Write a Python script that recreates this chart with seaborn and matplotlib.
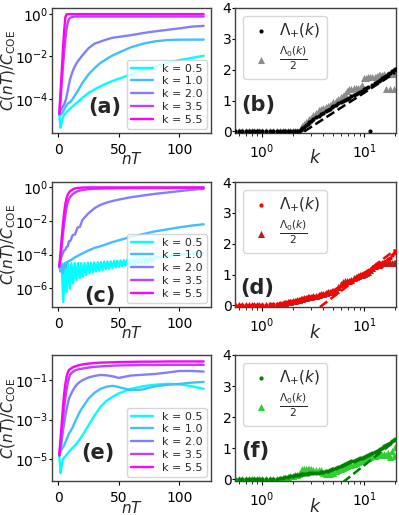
import matplotlib
matplotlib.use("Agg")
import matplotlib.pyplot as plt
import numpy as np
import seaborn as sns

# ---- left column: C(nT)/C_COE, stored as log10 values ----
NT = [1, 2, 3, 4, 5, 6, 7, 8, 9, 10, 12, 14, 16, 18, 20, 25, 30, 35, 40, 45,
      50, 60, 70, 80, 90, 100, 110, 120]
K_LABELS = ["k = 0.5", "k = 1.0", "k = 2.0", "k = 3.5", "k = 5.5"]
K_COLORS = ["#00ffff", "#40bfff", "#8080ff", "#bf40ff", "#ff00ff"]

# panel (a)
A_K05 = [-4.7, -5.35, -5.1, -4.85, -4.75, -4.68, -4.62, -4.56, -4.5, -4.45, -4.35, -4.25, -4.15, -4.05,
         -3.95, -3.72, -3.55, -3.4, -3.27, -3.15, -3.05, -2.85, -2.65, -2.48, -2.3, -2.17, -2.07, -1.97]
A_K10 = [-4.7, -4.75, -4.7, -4.6, -4.5, -4.4, -4.3, -4.22, -4.18, -4.15, -4.0, -3.82, -3.65, -3.45,
         -3.25, -2.85, -2.55, -2.3, -2.12, -1.95, -1.82, -1.57, -1.4, -1.29, -1.23, -1.21, -1.21, -1.21]
A_K20 = [-4.7, -4.55, -4.45, -4.35, -4.25, -4.1, -3.9, -3.6, -3.3, -3.05, -2.7, -2.45, -2.25, -2.1,
         -1.95, -1.62, -1.4, -1.3, -1.2, -1.12, -1.08, -1.0, -0.9, -0.82, -0.75, -0.68, -0.6, -0.56]
A_K35 = [-4.7, -4.1, -3.3, -2.5, -1.8, -1.2, -0.7, -0.4, -0.25, -0.18, -0.14, -0.12, -0.12, -0.12,
         -0.12, -0.12, -0.12, -0.12, -0.12, -0.12, -0.12, -0.12, -0.12, -0.12, -0.12, -0.12, -0.12, -0.12]
A_K55 = [-4.7, -3.7, -2.7, -1.7, -0.8, -0.15, -0.02, -0.01, -0.01, -0.01, -0.01, -0.01, -0.01, -0.01,
         -0.01, -0.01, -0.01, -0.01, -0.01, -0.01, -0.01, -0.01, -0.01, -0.01, -0.01, -0.01, -0.01, -0.01]

# panel (c); k = 0.5 oscillates strongly and has its own nT samples
C_NT05 = [1, 2.9, 4.3, 5.6, 7.0, 8.3, 9.7, 11.0, 12.4, 13.7, 15.1, 16.4, 17.8, 19.1, 20.5, 21.8, 23.2,
          24.5, 25.9, 27.2, 28.6, 29.9, 31.3, 32.6, 34.0, 35.3, 36.7, 38.0, 39.4, 40.7, 42.1, 43.4,
          44.8, 46.1, 47.5, 48.8, 50.2, 51.5, 52.9, 54.2, 55.6, 56.9, 58.3, 59.6, 61.0, 62.3, 63.7,
          65.0, 66.4, 67.7, 69.1, 70.4, 71.8, 73.1, 74.5, 75.8, 77.2, 80, 90, 100, 110, 120]
C_K05 = [-4.7, -4.5, -6.8, -4.5, -6.2, -4.5, -6.0, -4.5, -5.7, -4.5, -5.5, -4.5, -5.4, -4.5, -5.3,
         -4.5, -5.2, -4.48, -5.1, -4.47, -5.05, -4.46, -5.0, -4.45, -4.95, -4.44, -4.9, -4.42, -4.85,
         -4.41, -4.82, -4.4, -4.78, -4.38, -4.75, -4.36, -4.72, -4.34, -4.68, -4.32, -4.65, -4.3,
         -4.62, -4.28, -4.58, -4.26, -4.55, -4.24, -4.52, -4.22, -4.5, -4.2, -4.47, -4.18, -4.45,
         -4.16, -4.42, -4.15, -4.1, -4.0, -3.95, -3.9]
C_K10 = [-4.7, -5.0, -4.6, -5.1, -4.55, -4.8, -4.45, -4.42, -4.38, -4.35, -4.25, -4.15, -4.08, -4.0,
         -3.93, -3.75, -3.6, -3.5, -3.38, -3.25, -3.15, -2.95, -2.78, -2.62, -2.5, -2.38, -2.28, -2.2]
C_K20 = [-4.7, -4.3, -4.1, -3.9, -3.75, -3.7, -3.55, -3.5, -3.2, -3.2, -2.85, -2.8, -2.4, -2.35,
         -1.95, -1.55, -1.25, -1.05, -0.92, -0.82, -0.74, -0.6, -0.5, -0.4, -0.32, -0.24, -0.16, -0.1]
C_K35 = [-4.7, -4.2, -3.5, -2.8, -2.2, -1.65, -1.2, -0.9, -0.7, -0.58, -0.42, -0.32, -0.25, -0.2,
         -0.17, -0.12, -0.1, -0.09, -0.08, -0.08, -0.07, -0.07, -0.06, -0.06, -0.06, -0.05, -0.05, -0.05]
C_K55 = [-4.7, -3.9, -3.0, -2.2, -1.5, -1.0, -0.65, -0.45, -0.32, -0.24, -0.14, -0.08, -0.05, -0.04,
         -0.03, -0.02, -0.02, -0.02, -0.02, -0.02, -0.02, -0.02, -0.02, -0.02, -0.02, -0.02, -0.02, -0.02]

# panel (e)
E_K05 = [-4.8, -5.7, -5.3, -5.0, -4.9, -4.85, -4.78, -4.7, -4.62, -4.55, -4.42, -4.3, -4.15, -3.98,
         -3.8, -3.3, -2.8, -2.35, -2.05, -1.85, -1.68, -1.45, -1.32, -1.24, -1.2, -1.22, -1.32, -1.45]
E_K10 = [-4.8, -4.6, -4.5, -4.4, -4.3, -4.15, -4.0, -3.85, -3.7, -3.6, -3.4, -3.1, -2.85, -2.6,
         -2.4, -1.95, -1.65, -1.45, -1.34, -1.3, -1.36, -1.52, -1.48, -1.32, -1.25, -1.2, -1.14, -1.1]
E_K20 = [-4.8, -4.5, -4.1, -3.6, -3.2, -2.8, -2.5, -2.2, -1.95, -1.8, -1.55, -1.35, -1.2, -1.1,
         -1.02, -0.88, -0.8, -0.75, -0.77, -0.82, -0.9, -0.78, -0.74, -0.7, -0.63, -0.55, -0.55, -0.58]
E_K35 = [-4.8, -4.2, -3.6, -3.0, -2.4, -1.9, -1.5, -1.15, -0.9, -0.72, -0.6, -0.52, -0.48, -0.45,
         -0.43, -0.38, -0.34, -0.32, -0.3, -0.28, -0.27, -0.26, -0.25, -0.25, -0.24, -0.24, -0.24, -0.24]
E_K55 = [-4.8, -4.0, -3.2, -2.4, -1.7, -1.2, -0.85, -0.62, -0.5, -0.45, -0.37, -0.32, -0.28, -0.25,
         -0.22, -0.18, -0.15, -0.13, -0.12, -0.11, -0.1, -0.09, -0.08, -0.08, -0.07, -0.07, -0.07, -0.07]

# ---- right column: Lambda_+(k) and Lambda_0(k)/2 ----
K = [0.55, 0.6, 0.65, 0.7, 0.75, 0.8, 0.85, 0.9, 0.95, 1.0, 1.1, 1.2, 1.3, 1.4, 1.5, 1.6, 1.7, 1.8,
     1.9, 2.0, 2.1, 2.2, 2.3, 2.4, 2.5, 2.6, 2.7, 2.8, 2.9, 3.0, 3.2, 3.4, 3.6, 3.8, 4.0, 4.2, 4.4,
     4.6, 4.8, 5.0, 5.3, 5.6, 5.9, 6.2, 6.5, 6.8, 7.1, 7.5, 7.9, 8.3, 8.7, 9.1, 9.5, 10.0, 10.5,
     11.0, 11.5, 12.0, 12.6, 13.2, 13.8, 14.4, 15.0, 15.7, 16.4, 17.1, 17.8, 18.6, 19.4, 20.0]

B_PLUS = [0] * 23 + [0.05, 0.1, 0.15, 0.2, 0.25, 0.3, 0.34, 0.4, 0.46, 0.51, 0.56, 0.61, 0.66, 0.7,
                     0.74, 0.78, 0.82, 0.87, 0.92, 0.96, 1.0, 1.03, 1.06, 1.1, 1.14, 1.18, 1.22, 1.25,
                     1.28, 1.32, 1.36, 1.4, 1.44, 0.0, 1.52, 1.56, 1.6, 1.64, 1.68, 1.72, 1.76, 1.8,
                     1.85, 1.9, 1.95, 2.0, 2.03]
B_ZERO = [0] * 23 + [0.1, 0.18, 0.25, 0.3, 0.35, 0.4, 0.45, 0.52, 0.6, 0.68, 0.72, 0.75, 0.78, 0.82,
                     0.86, 0.9, 0.95, 1.0, 1.06, 1.12, 1.16, 1.22, 1.3, 1.36, 1.38, 1.4, 1.4, 1.41,
                     1.42, 1.5, 1.72, 1.74, 1.75, 1.76, 1.77, 1.78, 1.8, 1.82, 1.83, 1.84, 1.85, 1.38,
                     1.85, 1.37, 1.86, 1.36, 1.87]
B_FIT_K = [2.6, 20.0]
B_FIT = [0.0, 1.9]

D_PLUS = [0.0, 0.0, 0.0, 0.01, 0.01, 0.01, 0.02, 0.02, 0.02, 0.03, 0.03, 0.04, 0.05, 0.06, 0.07, 0.08,
          0.1, 0.11, 0.13, 0.15, 0.16, 0.18, 0.19, 0.2, 0.22, 0.23, 0.24, 0.26, 0.27, 0.28, 0.3, 0.32,
          0.34, 0.36, 0.38, 0.4, 0.42, 0.44, 0.47, 0.5, 0.54, 0.58, 0.62, 0.66, 0.7, 0.74, 0.78, 0.82,
          0.86, 0.9, 0.94, 0.98, 1.01, 1.05, 1.09, 1.13, 1.16, 1.2, 1.24, 1.28, 1.31, 1.34, 1.37, 1.41,
          1.45, 1.5, 1.55, 1.62, 1.7, 1.76]
D_ZERO = [0] * 15 + [0.05, 0.08, 0.1, 0.12, 0.14, 0.16, 0.17, 0.19, 0.2, 0.22, 0.23, 0.25, 0.26, 0.27,
                     0.28, 0.3, 0.32, 0.34, 0.36, 0.38, 0.4, 0.42, 0.43, 0.44, 0.45, 0.5, 0.6, 0.7,
                     0.76, 0.78, 0.8, 0.8, 0.82, 0.88, 0.92, 0.95, 0.98, 1.0, 1.03, 1.05, 1.1, 1.15,
                     1.2, 1.27, 1.3, 1.32, 1.35, 1.38, 1.39, 1.4, 1.4, 1.39, 1.38, 1.38, 1.37]
D_FIT_K = [3.7, 20.0]
D_FIT = [-0.05, 1.8]

F_PLUS = [0] * 12 + [0.02, 0.03, 0.05, 0.06, 0.08, 0.09, 0.1, 0.12, 0.13, 0.14, 0.15, 0.16, 0.17,
                     0.17, 0.18, 0.19, 0.2, 0.2, 0.21, 0.22, 0.22, 0.23, 0.24, 0.26, 0.28, 0.3, 0.32,
                     0.34, 0.37, 0.4, 0.43, 0.46, 0.49, 0.52, 0.55, 0.58, 0.6, 0.63, 0.65, 0.68, 0.7,
                     0.73, 0.76, 0.79, 0.82, 0.85, 0.88, 0.92, 0.96, 0.99, 1.02, 1.06, 1.1, 1.14,
                     1.18, 1.22, 1.26, 1.3]
F_ZERO = [0] * 14 + [0.02, 0.04, 0.06, 0.08, 0.1, 0.12, 0.14, 0.15, 0.16, 0.2, 0.32, 0.34, 0.33, 0.32,
                     0.33, 0.32, 0.31, 0.3, 0.3, 0.3, 0.2, 0.18, 0.18, 0.19, 0.2, 0.22, 0.26, 0.3,
                     0.34, 0.38, 0.41, 0.44, 0.45, 0.47, 0.5, 0.53, 0.56, 0.6, 0.63, 0.66, 0.68, 0.7,
                     0.72, 0.74, 0.76, 0.78, 0.8, 0.78, 0.8, 0.82, 0.78, 0.85, 0.72, 0.9, 0.75, 1.05]
F_FIT_K = [6.2, 20.0]
F_FIT = [-0.09, 1.24]


def draw_correlator(ax, curves, ylim, yticks, tag, tag_xy):
    """Left column: return-probability curves on a log axis."""
    for (nt, logc), label, color in zip(curves, K_LABELS, K_COLORS):
        sns.lineplot(x=nt, y=10.0 ** np.asarray(logc), color=color, linewidth=1.7,
                     label=label, estimator=None, sort=False, ax=ax)
    ax.set_yscale("log")
    ax.set_ylim(*ylim)
    ax.set_yticks(yticks)
    ax.set_xlim(-5, 126)
    ax.set_xticks([0, 50, 100])
    ax.set_xlabel(r"$nT$", fontsize=11, va="top")
    ax.xaxis.set_label_coords(0.5, -0.148)
    ax.set_ylabel(r"$C(nT)/C_{\mathrm{COE}}$", fontsize=11)
    ax.yaxis.set_label_coords(-0.215, 0.5)
    ax.legend(loc="lower right", fontsize=8, labelspacing=0.25, handlelength=2.0,
              borderpad=0.35, borderaxespad=0.4)
    ax.text(*tag_xy, tag, transform=ax.transAxes, fontsize=15, fontweight="bold",
            ha="center", va="center")


def draw_lyapunov(ax, plus, zero, fit_k, fit, dot_color, tri_color, tag, tag_xy):
    """Right column: growth exponents versus k, with a dashed guide."""
    sns.scatterplot(x=K, y=plus, color=dot_color, marker="o", s=9, linewidth=0,
                    label=r"$\Lambda_{+}(k)$", ax=ax, zorder=3)
    sns.scatterplot(x=K, y=zero, color=tri_color, marker="^", s=26, linewidth=0,
                    label=r"$\frac{\Lambda_0(k)}{2}$", ax=ax, zorder=2)
    sns.lineplot(x=fit_k, y=fit, color=dot_color, linestyle="--", linewidth=1.8,
                 estimator=None, legend=False, ax=ax, zorder=4)
    ax.set_xscale("log")
    ax.set_xlim(0.55, 20.4)
    ax.set_ylim(-0.05, 4)
    ax.set_yticks([0, 1, 2, 3, 4])
    ax.set_xlabel(r"$k$", fontsize=12.5, va="top")
    ax.xaxis.set_label_coords(0.5, -0.132)
    ax.set_ylabel("")
    ax.legend(loc="upper left", fontsize=11, handlelength=1.6, handletextpad=0.4,
              borderpad=0.4, labelspacing=0.3, borderaxespad=0.5)
    ax.text(*tag_xy, tag, transform=ax.transAxes, fontsize=15, fontweight="bold",
            ha="center", va="center")


def main():
    sns.set_style("ticks")
    plt.rcParams.update({
        "font.family": ["DejaVu Sans"],
        "axes.edgecolor": "0.25",
        "axes.linewidth": 1.0,
        "xtick.labelsize": 10,
        "ytick.labelsize": 10,
        "xtick.color": "black",
        "ytick.color": "black",
        "xtick.major.size": 3,
        "xtick.major.pad": 4.0,
        "xtick.minor.size": 1.8,
        "ytick.major.size": 2,
        "ytick.major.pad": 0.6,
        "ytick.minor.size": 1.2,
        "mathtext.fontset": "dejavusans",
    })
    fig = plt.figure(figsize=(3.99, 5.15), dpi=100)
    lx, lw = 52 / 399, 159 / 399
    rx, rw = 235 / 399, 161 / 399
    rows = [(8, 133), (182, 307), (355, 481)]
    boxes = [(1 - b / 515, (b - t) / 515) for t, b in rows]

    ax_a = fig.add_axes([lx, boxes[0][0], lw, boxes[0][1]])
    ax_b = fig.add_axes([rx, boxes[0][0], rw, boxes[0][1]])
    ax_c = fig.add_axes([lx, boxes[1][0], lw, boxes[1][1]])
    ax_d = fig.add_axes([rx, boxes[1][0], rw, boxes[1][1]])
    ax_e = fig.add_axes([lx, boxes[2][0], lw, boxes[2][1]])
    ax_f = fig.add_axes([rx, boxes[2][0], rw, boxes[2][1]])

    draw_correlator(ax_a, [(NT, A_K05), (NT, A_K10), (NT, A_K20), (NT, A_K35), (NT, A_K55)],
                    (2.5e-6, 1.9), [1e-4, 1e-2, 1e0], "(a)", (0.33, 0.21))
    draw_correlator(ax_c, [(C_NT05, C_K05), (NT, C_K10), (NT, C_K20), (NT, C_K35), (NT, C_K55)],
                    (8e-8, 2.0), [1e-6, 1e-4, 1e-2, 1e0], "(c)", (0.30, 0.09))
    draw_correlator(ax_e, [(NT, E_K05), (NT, E_K10), (NT, E_K20), (NT, E_K35), (NT, E_K55)],
                    (8e-7, 1.8), [1e-5, 1e-3, 1e-1], "(e)", (0.29, 0.22))

    draw_lyapunov(ax_b, B_PLUS, B_ZERO, B_FIT_K, B_FIT, "black", "#8c8c8c", "(b)", (0.145, 0.22))
    draw_lyapunov(ax_d, D_PLUS, D_ZERO, D_FIT_K, D_FIT, "red", "firebrick", "(d)", (0.135, 0.15))
    draw_lyapunov(ax_f, F_PLUS, F_ZERO, F_FIT_K, F_FIT, "green", "limegreen", "(f)", (0.124, 0.24))

    fig.savefig("out.png", dpi=100)
    plt.close(fig)


if __name__ == "__main__":
    main()
